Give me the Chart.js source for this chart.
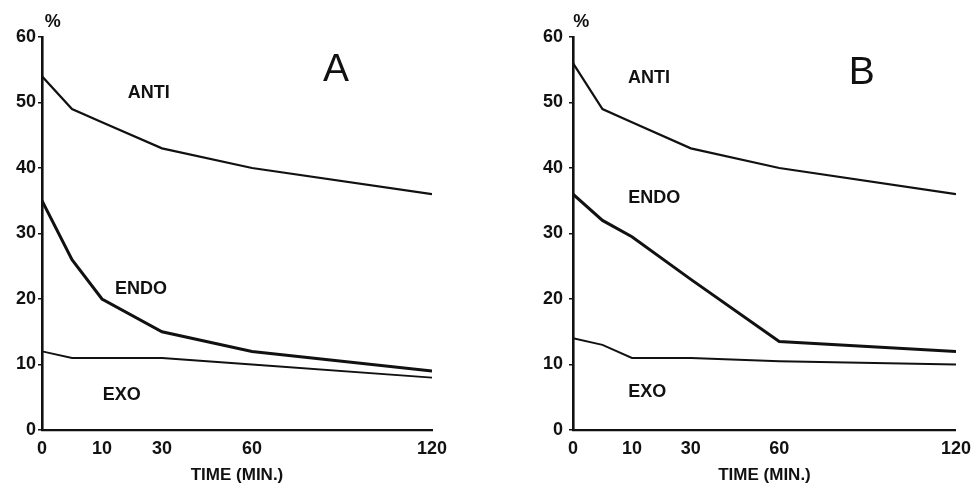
<!DOCTYPE html>
<html>
<head>
<meta charset="utf-8">
<script src="https://cdn.jsdelivr.net/npm/chart.js@4.4.1/dist/chart.umd.min.js"></script>
<style>
  body { margin: 0; background: #fff; width: 979px; height: 486px; position: relative; overflow: hidden; }
  canvas { position: absolute; top: 0; }
</style>
</head>
<body>
<canvas id="chartA" width="490" height="486" style="left:0"></canvas>
<canvas id="chartB" width="489" height="486" style="left:490px"></canvas>
<script>
// sampling times (min)
const times = [0, 5, 10, 30, 60, 120];
// the time axis is stretched: these are the printed ticks and where they sit
const tickTimes = [0, 10, 30, 60, 120];
const tickPos = [0, 1, 2, 3.5, 6.5];

// panel A
const antiA = [54, 49, 47, 43, 40, 36];
const endoA = [35, 26, 20, 15, 12, 9];
const exoA  = [12, 11, 11, 11, 10, 8];

// panel B
const antiB = [56, 49, 47, 43, 40, 36];
const endoB = [36, 32, 29.5, 23, 13.5, 12];
const exoB  = [14, 13, 11, 11, 10.5, 10];

const INK = '#111';
const FONT = '"Liberation Sans", Arial, sans-serif';

// time -> position on the stretched axis
function timeToPos(t) {
    for (let i = 1; i < tickTimes.length; i++) {
        if (t <= tickTimes[i]) {
            const f = (t - tickTimes[i - 1]) / (tickTimes[i] - tickTimes[i - 1]);
            return tickPos[i - 1] + f * (tickPos[i] - tickPos[i - 1]);
        }
    }
    return tickPos[tickPos.length - 1];
}

function points(values) {
    return values.map((v, i) => ({ x: timeToPos(times[i]), y: v }));
}

// draws the curve names, panel letter and the % sign
const textLabels = {
    id: 'textLabels',
    afterDatasetsDraw(chart, args, opts) {
        const { ctx, scales: { x, y } } = chart;
        ctx.save();
        ctx.fillStyle = INK;
        ctx.textAlign = 'center';
        ctx.textBaseline = 'middle';
        opts.items.forEach(it => {
            ctx.font = it.font;
            ctx.fillText(it.text, x.getPixelForValue(it.x), y.getPixelForValue(it.y));
        });
        ctx.restore();
    }
};

function makeChart(id, anti, endo, exo, yWidth, yPad, rightPad, labels) {
    const ctx = document.getElementById(id).getContext('2d');
    return new Chart(ctx, {
        type: 'line',
        data: {
            datasets: [
                { label: 'ANTI', data: points(anti), borderColor: INK, borderWidth: 2.2 },
                { label: 'ENDO', data: points(endo), borderColor: INK, borderWidth: 3 },
                { label: 'EXO',  data: points(exo),  borderColor: INK, borderWidth: 1.9 }
            ]
        },
        options: {
            responsive: false,
            animation: false,
            elements: { point: { radius: 0 }, line: { tension: 0 } },
            layout: { padding: { left: 0, right: rightPad, top: 37, bottom: 0 } },
            scales: {
                x: {
                    type: 'linear',
                    min: 0,
                    max: 6.5,
                    afterBuildTicks: s => { s.ticks = tickPos.map(v => ({ value: v })); },
                    afterFit: s => { s.height = 56; },
                    grid: { display: true, drawOnChartArea: false, drawTicks: false, color: INK },
                    border: { display: true, color: INK, width: 2.2 },
                    ticks: {
                        color: INK,
                        padding: 8,
                        maxRotation: 0,
                        font: { family: FONT, size: 18, weight: 'bold' },
                        callback: v => tickTimes[tickPos.indexOf(v)]
                    },
                    title: {
                        display: true,
                        text: 'TIME (MIN.)',
                        color: INK,
                        padding: { top: 0, bottom: 0 },
                        font: { family: FONT, size: 17, weight: 'bold' }
                    }
                },
                y: {
                    min: 0,
                    max: 60,
                    afterFit: s => { s.width = yWidth; },
                    grid: { display: true, drawOnChartArea: false, drawTicks: true, tickLength: 4, color: INK, lineWidth: 1.5 },
                    border: { display: true, color: INK, width: 2.6 },
                    ticks: {
                        stepSize: 10,
                        color: INK,
                        padding: yPad,
                        font: { family: FONT, size: 18, weight: 'bold' }
                    }
                }
            },
            plugins: {
                legend: { display: false },
                tooltip: { enabled: false },
                textLabels: { items: labels }
            }
        },
        plugins: [textLabels]
    });
}

const lblFont = 'bold 18px ' + FONT;
const bigFont = '39px ' + FONT;
const pctFont = 'bold 18px ' + FONT;

makeChart('chartA', antiA, endoA, exoA, 42, 2, 58, [
    { text: 'ANTI', x: 1.78, y: 51.5, font: lblFont },
    { text: 'ENDO', x: 1.65, y: 21.5, font: lblFont },
    { text: 'EXO',  x: 1.33, y: 5.3,  font: lblFont },
    { text: 'A',    x: 4.9,  y: 55,   font: bigFont },
    { text: '%',    x: 0.18, y: 62.3, font: pctFont }
]);

makeChart('chartB', antiB, endoB, exoB, 83, 6, 19, [
    { text: 'ANTI', x: 1.29, y: 53.7, font: lblFont },
    { text: 'ENDO', x: 1.38, y: 35.4, font: lblFont },
    { text: 'EXO',  x: 1.26, y: 5.8,  font: lblFont },
    { text: 'B',    x: 4.9,  y: 54.5, font: bigFont },
    { text: '%',    x: 0.14, y: 62.3, font: pctFont }
]);
</script>
</body>
</html>
